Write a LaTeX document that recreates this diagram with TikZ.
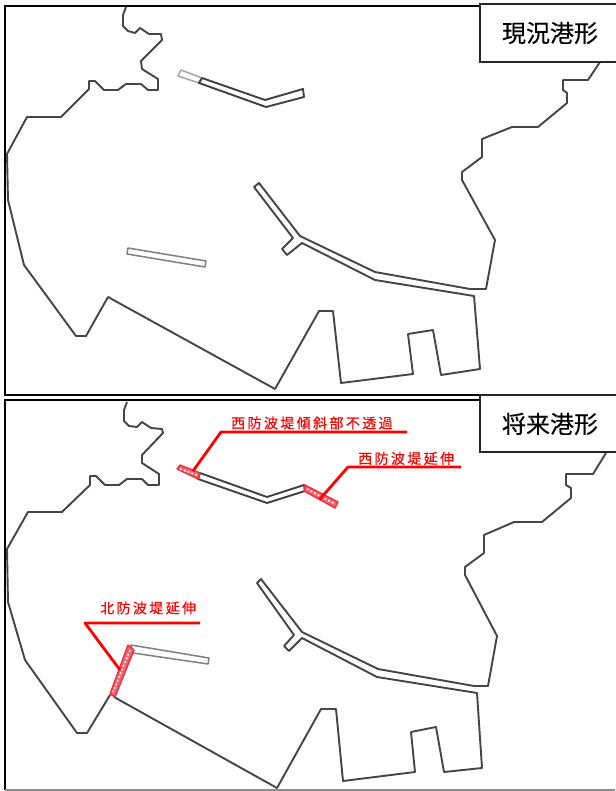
\documentclass[tikz,border=0pt]{standalone}
\usepackage{fontspec}
\newfontfamily\labelfont[FakeBold=0.25]{Noto Sans CJK JP}
\newfontfamily\redfont[LetterSpace=17,FakeBold=0.4]{Noto Sans CJK JP}
\definecolor{coast}{gray}{0.27}
\definecolor{hatch}{RGB}{236,50,65}
\tikzset{
  coastline/.style={draw=coast,line width=1.9pt,line join=round},
  faint/.style={draw=black!50,line width=1.5pt,line join=round,fill=white},
  dark/.style={draw=black!75,line width=1.9pt,line join=round,fill=white},
  frameline/.style={draw=black,line width=2pt},
  tagbox/.style={draw=black!85,line width=1.4pt,fill=white},
  tagtext/.style={font=\labelfont\fontsize{24}{24}\selectfont,text=black,inner sep=0pt},
  redtext/.style={font=\redfont\fontsize{14}{14}\selectfont,text=red,inner sep=0pt,anchor=west},
  leader/.style={draw=red,line width=2.8pt,line join=round},
  ext/.style={draw=hatch,line width=1.4pt,fill=hatch!75,line join=round},
  extdots/.style={draw=white,line width=1.4pt,dash pattern=on 2pt off 2pt}
}
\begin{document}
\begin{tikzpicture}[x=1pt,y=-1pt]
\useasboundingbox (0,0) rectangle (615,791);
\fill[white] (0,0) rectangle (615,791);

% ---------- upper panel ----------
\draw[frameline] (480,6) -- (5,6) -- (5,395) -- (480,395);
\draw[coastline] (126,7) -- (123,15) -- (123,26) -- (128,31) -- (135,33) -- (140,28) -- (149,34) -- (161,34) -- (162,40) -- (141,61) -- (142,69) -- (158,79) -- (158,90) -- (148,90) -- (141,84) -- (126,84) -- (118,90) -- (104,90) -- (95,81) -- (89,81) -- (89,89) -- (61,117) -- (27,117) -- (7,154) -- (8,200) -- (24,265) -- (76,336) -- (86,336) -- (108,297) -- (275,389) -- (319,311) -- (333,311) -- (341,383) -- (413,374) -- (408,334) -- (433,330) -- (441,375) -- (480,369) -- (474,296) -- (375,280) -- (302,243) -- (287,255) -- (282,249) -- (293,238) -- (254,187) -- (259,183) -- (300,236) -- (375,272) -- (470,289) -- (486,289) -- (495,240) -- (462,180) -- (462,172) -- (482,157) -- (482,139) -- (512,127) -- (538,127) -- (567,103) -- (567,93) -- (563,90) -- (563,80) -- (588,80) -- (600,62);
\draw[faint,draw=black!35] (178,76) -- (181,70) -- (202,78) -- (199,83) -- cycle;
\draw[dark] (202,78) -- (265,100) -- (303,89) -- (304,97) -- (266,107) -- (199,83) -- cycle;
\draw[faint] (128,248) -- (206,261) -- (205,267) -- (127,254) -- cycle;

% ---------- lower panel ----------
\draw[frameline] (480,400) -- (5,400) -- (5,790);
\draw[draw=black!45,line width=1.5pt] (5,790) -- (615,790);
\draw[coastline] (127,402) -- (124,410) -- (124,421) -- (129,426) -- (137,427) -- (142,422) -- (151,428) -- (162,429) -- (163,433) -- (142,455) -- (142,463) -- (159,474) -- (159,485) -- (148,485) -- (142,479) -- (127,479) -- (119,485) -- (105,485) -- (96,476) -- (90,476) -- (90,485) -- (62,512) -- (28,512) -- (7,549) -- (8,602) -- (25,660) -- (77,733) -- (87,733) -- (110,695);
\draw[coastline] (114,697) -- (277,788) -- (321,709) -- (336,709) -- (343,781) -- (415,772) -- (411,732) -- (436,727) -- (444,772) -- (482,768) -- (477,693) -- (377,677) -- (302,638) -- (289,651) -- (284,646) -- (294,635) -- (257,583) -- (261,579) -- (302,632) -- (378,669) -- (474,686) -- (488,686) -- (497,636) -- (465,575) -- (465,567) -- (484,553) -- (484,535) -- (514,522) -- (542,522) -- (571,498) -- (571,488) -- (566,485) -- (566,474) -- (593,474) -- (606,453);
\draw[dark] (200,473) -- (267,497) -- (304,485) -- (305,491) -- (267,503) -- (198,479) -- cycle;
\draw[faint] (131,645) -- (209,658) -- (208,664) -- (133,653) -- cycle;

% extensions (red hatched)
\draw[ext] (177,469) -- (180,465) -- (200,473) -- (198,479) -- cycle;
\draw[extdots] (180,469) -- (197,475);
\draw[ext] (305,485) -- (338,502) -- (335,508) -- (304,491) -- cycle;
\draw[extdots] (307,489) -- (335,504);
\draw[ext] (128,645) -- (134,650) -- (115,697) -- (110,694) -- cycle;
\draw[extdots] (130,650) -- (113,692);

% labels
\node[redtext] (westslope) at (231,423) {西防波堤傾斜部不透過};
\node[redtext] (westext) at (358,458.5) {西防波堤延伸};
\node[redtext] (northext) at (100,608) {北防波堤延伸};

% leaders
\coordinate (a1) at (193,471);
\coordinate (a2) at (221,432);
\coordinate (a3) at (407,432);
\draw[leader] (a1) -- (a2) -- (a3);
\coordinate (b1) at (320,499);
\coordinate (b2) at (348,467);
\coordinate (b3) at (461,467);
\draw[leader] (b1) -- (b2) -- (b3);
\coordinate (c1) at (120,670);
\coordinate (c2) at (85,623);
\coordinate (c3) at (200,623);
\draw[leader] (c1) -- (c2) -- (c3);

% tags
\draw[tagbox] (620,4) -- (480,4) -- (480,62) -- (620,62);
\node[tagtext] (tagnow) at (550,33) {現況港形};
\draw[tagbox] (620,395) -- (480,395) -- (480,452) -- (620,452);
\node[tagtext] (tagfuture) at (550,424) {将来港形};
\end{tikzpicture}
\end{document}
